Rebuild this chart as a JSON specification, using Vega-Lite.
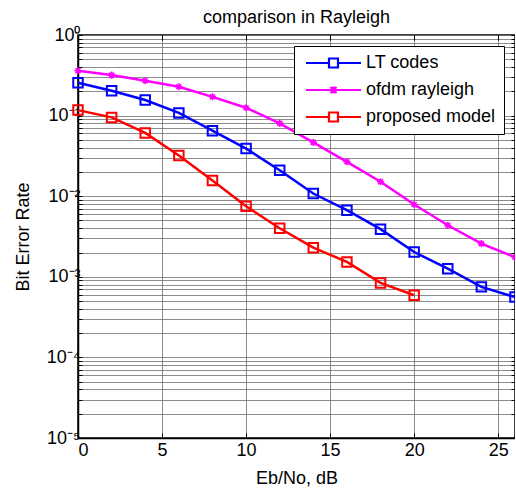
{
  "$schema": "https://vega.github.io/schema/vega-lite/v6.json",
  "width": 437,
  "height": 403,
  "autosize": "none",
  "padding": {"left": 78, "top": 35, "right": 0, "bottom": 51},
  "background": "white",
  "config": {
    "font": "Liberation Sans",
    "view": {"stroke": "black", "strokeWidth": 1.5},
    "axis": {"labelColor": "black", "titleColor": "black", "labelFontWeight": "normal", "titleFontWeight": "normal"}
  },
  "title": {"text": "comparison in Rayleigh", "fontSize": 18, "fontWeight": "normal", "color": "black", "offset": -1, "anchor": "middle"},
  "resolve": {"axis": {"x": "independent", "y": "independent"}},
  "data": {"values": [
    {"x": 0, "ber": 0.255, "series": "LT codes"},
    {"x": 2, "ber": 0.203, "series": "LT codes"},
    {"x": 4, "ber": 0.156, "series": "LT codes"},
    {"x": 6, "ber": 0.108, "series": "LT codes"},
    {"x": 8, "ber": 0.065, "series": "LT codes"},
    {"x": 10, "ber": 0.039, "series": "LT codes"},
    {"x": 12, "ber": 0.021, "series": "LT codes"},
    {"x": 14, "ber": 0.0108, "series": "LT codes"},
    {"x": 16, "ber": 0.0067, "series": "LT codes"},
    {"x": 18, "ber": 0.0039, "series": "LT codes"},
    {"x": 20, "ber": 0.00203, "series": "LT codes"},
    {"x": 22, "ber": 0.00126, "series": "LT codes"},
    {"x": 24, "ber": 0.00075, "series": "LT codes"},
    {"x": 26, "ber": 0.00056, "series": "LT codes"},
    {"x": 0, "ber": 0.36, "series": "ofdm rayleigh"},
    {"x": 2, "ber": 0.318, "series": "ofdm rayleigh"},
    {"x": 4, "ber": 0.271, "series": "ofdm rayleigh"},
    {"x": 6, "ber": 0.228, "series": "ofdm rayleigh"},
    {"x": 8, "ber": 0.171, "series": "ofdm rayleigh"},
    {"x": 10, "ber": 0.125, "series": "ofdm rayleigh"},
    {"x": 12, "ber": 0.080, "series": "ofdm rayleigh"},
    {"x": 14, "ber": 0.0465, "series": "ofdm rayleigh"},
    {"x": 16, "ber": 0.0267, "series": "ofdm rayleigh"},
    {"x": 18, "ber": 0.0151, "series": "ofdm rayleigh"},
    {"x": 20, "ber": 0.0079, "series": "ofdm rayleigh"},
    {"x": 22, "ber": 0.00436, "series": "ofdm rayleigh"},
    {"x": 24, "ber": 0.00258, "series": "ofdm rayleigh"},
    {"x": 26, "ber": 0.00175, "series": "ofdm rayleigh"},
    {"x": 0, "ber": 0.117, "series": "proposed model"},
    {"x": 2, "ber": 0.095, "series": "proposed model"},
    {"x": 4, "ber": 0.061, "series": "proposed model"},
    {"x": 6, "ber": 0.032, "series": "proposed model"},
    {"x": 8, "ber": 0.0157, "series": "proposed model"},
    {"x": 10, "ber": 0.0075, "series": "proposed model"},
    {"x": 12, "ber": 0.0040, "series": "proposed model"},
    {"x": 14, "ber": 0.0023, "series": "proposed model"},
    {"x": 16, "ber": 0.00153, "series": "proposed model"},
    {"x": 18, "ber": 0.00084, "series": "proposed model"},
    {"x": 20, "ber": 0.00059, "series": "proposed model"}
  ]},
  "encoding": {
    "color": {
      "field": "series", "type": "nominal",
      "scale": {"domain": ["LT codes", "ofdm rayleigh", "proposed model"], "range": ["#0000FF", "#FF00FF", "#FF0000"]},
      "legend": {
        "title": null, "orient": "top-right", "offset": 11,
        "fillColor": "white", "strokeColor": "black", "padding": 8,
        "labelFontSize": 18, "labelColor": "black", "labelOffset": 46,
        "symbolSize": 100, "symbolStrokeWidth": 2.2, "rowPadding": 9,
        "encode": {
          "symbols": {"update": {
            "shape": {"signal": "datum.value == 'ofdm rayleigh' ? 'M-1,0H10M3.9,-0.6L5.1,0.6M3.9,0.6L5.1,-0.6M4.5,-0.7V0.7' : 'M-1,0H3.6M5.4,0H10M3.6,-0.9H5.4V0.9H3.6Z'"},
            "fill": {"value": "transparent"},
            "strokeWidth": {"value": 2.2}
          }}
        }
      }
    }
  },
  "layer": [
    {
      "mark": {"type": "line", "strokeWidth": 2.5},
      "encoding": {
        "x": {
          "field": "x", "type": "quantitative",
          "scale": {"domain": [0, 26], "nice": false, "zero": false},
          "axis": {"orient": "top", "title": null, "labels": false, "grid": false, "domain": false,
                   "minExtent": 0, "maxExtent": 0,
                   "values": [0, 5, 10, 15, 20, 25], "tickSize": -5, "tickColor": "black"}
        },
        "y": {
          "field": "ber", "type": "quantitative",
          "scale": {"type": "log", "domain": [0.00001, 1], "nice": false},
          "axis": {"orient": "right", "title": null, "labels": false, "grid": false, "domain": false,
                   "minExtent": 0, "maxExtent": 0,
                   "values": [0.00001, 0.00002, 0.00003, 0.00004, 0.00005, 0.00006, 0.00007, 0.00008, 0.00009,
                   0.0001, 0.0002, 0.0003, 0.0004, 0.0005, 0.0006, 0.0007, 0.0008, 0.0009,
                   0.001, 0.002, 0.003, 0.004, 0.005, 0.006, 0.007, 0.008, 0.009,
                   0.01, 0.02, 0.03, 0.04, 0.05, 0.06, 0.07, 0.08, 0.09,
                   0.1, 0.2, 0.3, 0.4, 0.5, 0.6, 0.7, 0.8, 0.9, 1],
                   "tickSize": -4, "tickColor": "black"}
        }
      }
    },
    {
      "transform": [{"filter": "datum.series != 'ofdm rayleigh'"}],
      "mark": {"type": "point", "shape": "square", "filled": false, "strokeWidth": 2, "opacity": 1, "size": 90},
      "encoding": {
        "x": {
          "field": "x", "type": "quantitative",
          "scale": {"domain": [0, 26], "nice": false, "zero": false},
          "axis": {
            "orient": "bottom",
            "title": "Eb/No, dB", "titleFontSize": 18, "titlePadding": 10,
            "values": [0, 5, 10, 15, 20, 25], "format": "d",
            "labelFontSize": 18, "labelPadding": 8, "tickSize": -5, "tickColor": "black",
            "domainColor": "black", "domainWidth": 1.5,
            "grid": true, "gridColor": "#6f6f6f", "gridWidth": 0.8
          }
        },
        "y": {
          "field": "ber", "type": "quantitative",
          "scale": {"type": "log", "domain": [0.00001, 1], "nice": false},
          "axis": {
            "orient": "left",
            "title": "Bit Error Rate", "titleFontSize": 18, "titlePadding": 14,
            "values": [0.00001, 0.00002, 0.00003, 0.00004, 0.00005, 0.00006, 0.00007, 0.00008, 0.00009,
                       0.0001, 0.0002, 0.0003, 0.0004, 0.0005, 0.0006, 0.0007, 0.0008, 0.0009,
                       0.001, 0.002, 0.003, 0.004, 0.005, 0.006, 0.007, 0.008, 0.009,
                       0.01, 0.02, 0.03, 0.04, 0.05, 0.06, 0.07, 0.08, 0.09,
                       0.1, 0.2, 0.3, 0.4, 0.5, 0.6, 0.7, 0.8, 0.9, 1],
            "labelExpr": "datum.value == 1 ? '10⁰' : datum.value == 0.1 ? '10⁻¹' : datum.value == 0.01 ? '10⁻²' : datum.value == 0.001 ? '10⁻³' : datum.value == 0.0001 ? '10⁻⁴' : datum.value == 0.00001 ? '10⁻⁵' : ''",
            "labelFontSize": 18, "labelPadding": 2, "labelOverlap": false, "tickSize": -4, "tickColor": "black",
            "domainColor": "black", "domainWidth": 1.5,
            "grid": true, "gridColor": "#6f6f6f", "gridWidth": 0.8
          }
        }
      }
    },
    {
      "transform": [{"filter": "datum.series == 'ofdm rayleigh'"}],
      "mark": {"type": "point", "shape": "M-1,0H1M0,-1V1M-0.7,-0.7L0.7,0.7M-0.7,0.7L0.7,-0.7", "filled": false, "strokeWidth": 1.6, "opacity": 1, "size": 50},
      "encoding": {
        "x": {"field": "x", "type": "quantitative", "scale": {"domain": [0, 26], "nice": false, "zero": false}, "axis": null},
        "y": {"field": "ber", "type": "quantitative", "scale": {"type": "log", "domain": [0.00001, 1], "nice": false}, "axis": null}
      }
    }
  ]
}
